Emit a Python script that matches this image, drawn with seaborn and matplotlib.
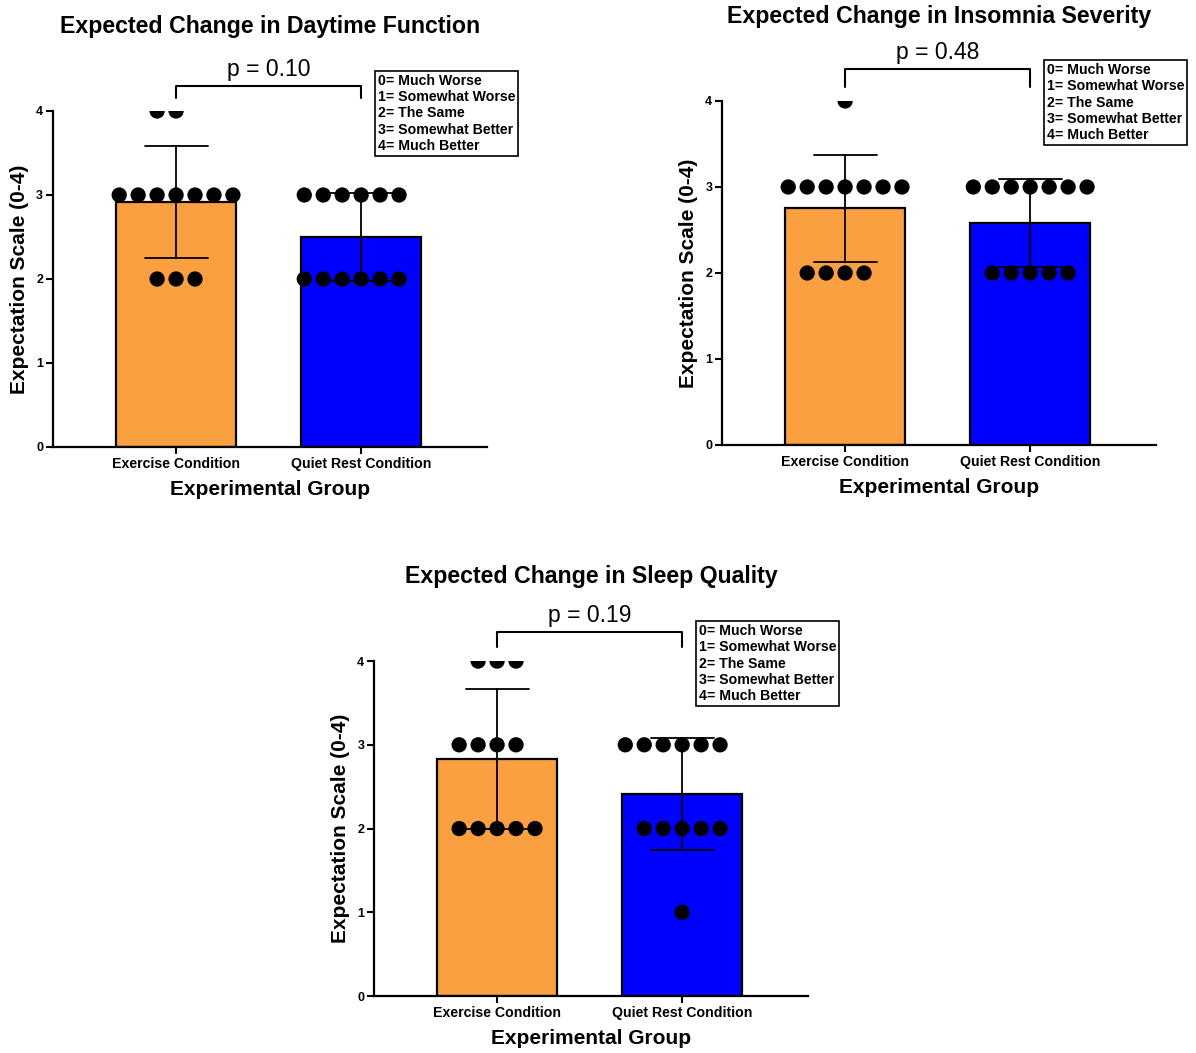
import pandas as pd
import seaborn as sns
import matplotlib.pyplot as plt

sns.set_style('ticks')
plt.rcParams['font.family'] = ['Liberation Sans', 'DejaVu Sans']
for k in ['text.color', 'axes.labelcolor', 'xtick.color', 'ytick.color', 'axes.edgecolor']:
    plt.rcParams[k] = 'black'

# groupes et couleurs
groups = ['Exercise Condition', 'Quiet Rest Condition']
bar_colors = ['#FBA040', '#0000FF']

# réponses individuelles (échelle 0-4)
daytime_exercise = [4, 4, 3, 3, 3, 3, 3, 3, 3, 2, 2, 2]
daytime_rest = [3, 3, 3, 3, 3, 3, 2, 2, 2, 2, 2, 2]
insomnia_exercise = [4, 3, 3, 3, 3, 3, 3, 3, 2, 2, 2, 2]
insomnia_rest = [3, 3, 3, 3, 3, 3, 3, 2, 2, 2, 2, 2]
sleep_exercise = [4, 4, 4, 3, 3, 3, 3, 2, 2, 2, 2, 2]
sleep_rest = [3, 3, 3, 3, 3, 3, 2, 2, 2, 2, 2, 1]

titles = ['Expected Change in Daytime Function',
          'Expected Change in Insomnia Severity',
          'Expected Change in Sleep Quality']
p_labels = ['p = 0.10', 'p = 0.48', 'p = 0.19']
scale_text = ('0= Much Worse\n1= Somewhat Worse\n2= The Same\n'
              '3= Somewhat Better\n4= Much Better')

panels = [(daytime_exercise, daytime_rest),
          (insomnia_exercise, insomnia_rest),
          (sleep_exercise, sleep_rest)]

# positions des axes en fraction de figure
axes_pos = [[0.0443, 0.5755, 0.3629, 0.3191],
            [0.6037, 0.5774, 0.3629, 0.3267],
            [0.3127, 0.0541, 0.3629, 0.3181]]
# hauteur du crochet et du texte p
bracket_y = [(4.15, 4.30, 4.36), (4.16, 4.37, 4.43), (4.17, 4.35, 4.41)]

fig = plt.figure(figsize=(11.96, 10.53), dpi=100)

for i, (ex, rest) in enumerate(panels):
    ax = fig.add_axes(axes_pos[i])
    df = pd.DataFrame({
        'group': [groups[0]] * len(ex) + [groups[1]] * len(rest),
        'score': ex + rest,
    })

    sns.barplot(data=df, x='group', y='score', hue='group', order=groups,
                hue_order=groups, palette=bar_colors, legend=False, saturation=1,
                errorbar='sd', capsize=0.34, width=0.65,
                edgecolor='black', linewidth=1.6,
                err_kws={'color': 'black', 'linewidth': 1.3, 'zorder': 4},
                ax=ax)
    # bord invisible: garde un petit espace entre les points
    sns.swarmplot(data=df, x='group', y='score', order=groups,
                  color='black', size=11, edgecolor='none', linewidth=2,
                  zorder=3, ax=ax)

    ax.set_xlim(-0.665, 1.68)
    ax.set_ylim(0, 4)
    ax.set_yticks([0, 1, 2, 3, 4])
    ax.set_yticklabels(['0', '1', '2', '3', '4'], fontweight='bold', fontsize=9)
    ax.set_xticks([0, 1])
    ax.set_xticklabels(groups, fontweight='bold', fontsize=10.2)
    ax.tick_params(axis='both', length=5, width=1.5, pad=2)
    for s in ['left', 'bottom']:
        ax.spines[s].set_linewidth(1.6)
    sns.despine(ax=ax)

    ax.set_xlabel('Experimental Group', fontweight='bold', fontsize=15, labelpad=7)
    ax.set_ylabel('Expectation Scale (0-4)', fontweight='bold', fontsize=15, labelpad=5)
    ax.set_title(titles[i], fontweight='bold', fontsize=16.7, pad=56)

    # crochet de signification
    lo, hi, ty = bracket_y[i]
    ax.plot([0, 0, 1, 1], [lo, hi, hi, lo], color='black', lw=1.5, clip_on=False)
    ax.text(0.5, ty, p_labels[i], ha='center', va='bottom', fontsize=16.5)

    # légende de l'échelle
    ax.text(0.748, 1.11, scale_text, transform=ax.transAxes, ha='left', va='top',
            fontsize=10.2, fontweight='bold', linespacing=1.2,
            bbox=dict(boxstyle='square,pad=0.2', fc='white', ec='black', lw=1.2))

fig.savefig('out.png', dpi=100)
